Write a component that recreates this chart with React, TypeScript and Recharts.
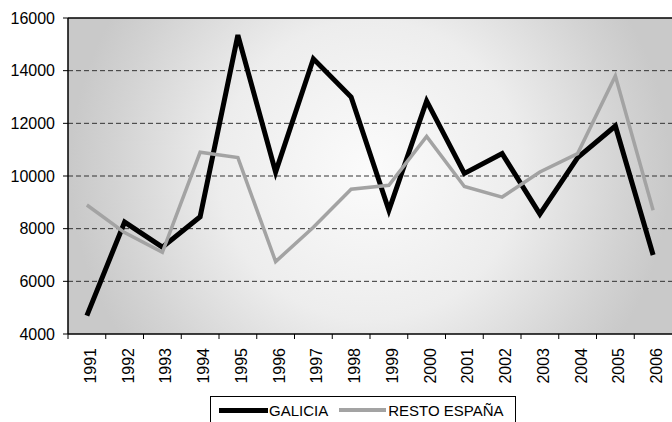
import React from 'react';
import {
  LineChart,
  Line,
  XAxis,
  YAxis,
  CartesianGrid,
  Legend,
  ReferenceLine,
} from 'recharts';

const years = ['1991', '1992', '1993', '1994', '1995', '1996', '1997', '1998', '1999', '2000', '2001', '2002', '2003', '2004', '2005', '2006'];
const galicia = [4700, 8250, 7300, 8450, 15350, 10150, 14450, 13000, 8700, 12850, 10100, 10850, 8550, 10700, 11900, 7000];
const restoEspana = [8900, 7850, 7100, 10900, 10700, 6750, 8050, 9500, 9650, 11500, 9600, 9200, 10150, 10850, 13800, 8700];
const yTicks = [4000, 6000, 8000, 10000, 12000, 14000, 16000];

const seriesNames = { galicia: 'GALICIA', resto: 'RESTO ESPAÑA' };

const data = years.map((y, i) => ({ year: y, galicia: galicia[i], resto: restoEspana[i] }));

const W = 672;
const H = 422;
const Y_AXIS_W = 68;
const PLOT_W = W - Y_AXIS_W;
const BAND = PLOT_W / years.length;
const FONT = '"Liberation Sans", Arial, sans-serif';
const GRAY = '#a3a3a3';

const XTick = (props: any) => {
  const { x, y, payload } = props;
  const bx = x + 9;
  const by = y + 14;
  return (
    <g>
      <line x1={x - BAND / 2} x2={x - BAND / 2} y1={y} y2={y + 5} stroke="#000" strokeWidth={1} />
      <text
        x={bx}
        y={by}
        transform={`rotate(-90, ${bx}, ${by})`}
        textAnchor="end"
        fontSize={16}
        fill="#000"
        fontFamily={FONT}
      >
        {payload.value}
      </text>
    </g>
  );
};

const LegendBox = () => (
  <div
    style={{
      width: 306,
      height: 30,
      border: '1px solid #000',
      background: '#fff',
      display: 'flex',
      alignItems: 'flex-start',
      fontFamily: FONT,
      fontSize: 15,
      color: '#000',
      boxSizing: 'border-box',
      paddingLeft: 8,
      paddingTop: 5,
      lineHeight: '17px',
    }}
  >
    <span style={{ display: 'inline-block', width: 49, height: 5, background: '#000', marginTop: 6 }} />
    <span style={{ marginLeft: 1 }}>{seriesNames.galicia}</span>
    <span style={{ display: 'inline-block', width: 47, height: 4, background: GRAY, marginTop: 6, marginLeft: 11 }} />
    <span style={{ marginLeft: 2 }}>{seriesNames.resto}</span>
  </div>
);

export default function App() {
  return (
    <div style={{ position: 'absolute', left: 0, top: 0, width: W, height: H, background: '#fff' }}>
      <LineChart
        width={W}
        height={H}
        data={data}
        margin={{ top: 18, right: 0, left: 0, bottom: 0 }}
        style={{ fontFamily: FONT }}
      >
        <defs>
          <radialGradient id="plotBg" gradientUnits="userSpaceOnUse" cx={370} cy={170} r={300}>
            <stop offset="0%" stopColor="#fbfbfb" />
            <stop offset="50%" stopColor="#ededed" />
            <stop offset="85%" stopColor="#d3d3d3" />
            <stop offset="100%" stopColor="#c9c9c9" />
          </radialGradient>
        </defs>
        <CartesianGrid
          vertical={false}
          horizontal={true}
          fill="url(#plotBg)"
          fillOpacity={1}
          stroke="#333"
          strokeDasharray="5 3"
          horizontalValues={[6000, 8000, 10000, 12000, 14000]}
        />
        <XAxis
          dataKey="year"
          type="category"
          scale="band"
          height={58}
          interval={0}
          tickLine={false}
          tickSize={0}
          tickMargin={0}
          axisLine={{ stroke: '#000', strokeWidth: 1.5 }}
          tick={<XTick />}
        />
        <YAxis
          width={Y_AXIS_W}
          domain={[4000, 16000]}
          ticks={yTicks}
          interval={0}
          allowDataOverflow
          tickSize={5}
          tickMargin={8}
          tickLine={{ stroke: '#000' }}
          axisLine={{ stroke: '#000', strokeWidth: 1.5 }}
          tick={{ fill: '#000', fontSize: 16, fontFamily: FONT }}
        />
        <ReferenceLine y={16000} stroke="#000" strokeWidth={1.5} />
        <Line
          type="linear"
          dataKey="galicia"
          name={seriesNames.galicia}
          stroke="#000"
          strokeWidth={5}
          dot={false}
          activeDot={false}
          strokeLinejoin="miter"
          isAnimationActive={false}
        />
        <Line
          type="linear"
          dataKey="resto"
          name={seriesNames.resto}
          stroke={GRAY}
          strokeWidth={3.5}
          dot={false}
          activeDot={false}
          strokeLinejoin="miter"
          isAnimationActive={false}
        />
        <Legend
          verticalAlign="bottom"
          content={<LegendBox />}
          wrapperStyle={{ position: 'absolute', left: 210, top: 396, width: 306, height: 30 }}
        />
      </LineChart>
    </div>
  );
}
